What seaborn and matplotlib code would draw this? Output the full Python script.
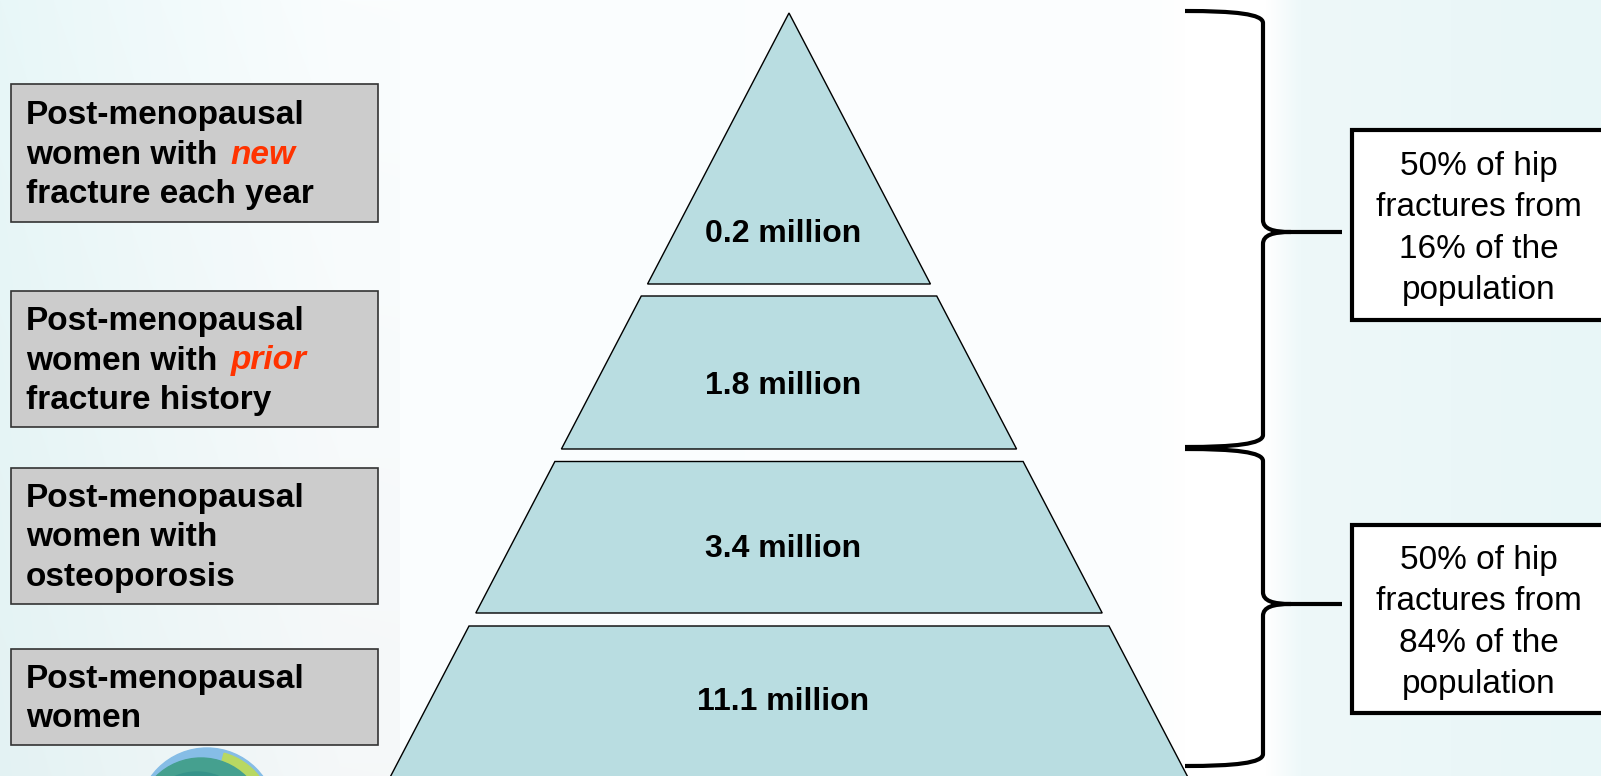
import numpy as np
import matplotlib
matplotlib.use("Agg")
import matplotlib.pyplot as plt
import seaborn as sns
from matplotlib.patches import Rectangle, Polygon, PathPatch, Circle, Wedge
from matplotlib.path import Path
from matplotlib.colors import to_rgb

# ---------------- data ----------------
tier_labels = ["0.2 million", "1.8 million", "3.4 million", "11.1 million"]
group_lines = [
    ["Post-menopausal", "women with", "fracture each year"],
    ["Post-menopausal", "women with", "fracture history"],
    ["Post-menopausal", "women with", "osteoporosis"],
    ["Post-menopausal", "women"],
]
group_highlight = ["new", "prior", None, None]
note_lines = [
    ["50% of hip", "fractures from", "16% of the", "population"],
    ["50% of hip", "fractures from", "84% of the", "population"],
]

# ---------------- style ----------------
sns.set_theme(style="white")
plt.rcParams['font.family'] = ['Liberation Sans', 'DejaVu Sans']

W, H = 1601, 776
fig = plt.figure(figsize=(W / 100, H / 100), dpi=100)
ax = fig.add_axes([0, 0, 1, 1])
ax.set_xlim(0, W)
ax.set_ylim(H, 0)
ax.axis('off')

# background gradient
xs = np.arange(W)
stops_x = [0, 160, 340, 1150, 1185, 1265, 1300, 1601]
stops_c = ['#e8f7f8', '#f1fafb', '#fafdfe', '#fcfefe', '#ffffff', '#ffffff', '#eef8f9', '#e8f6f7']
rgb = np.array([to_rgb(c) for c in stops_c])
row = np.stack([np.interp(xs, stops_x, rgb[:, k]) for k in range(3)], axis=-1)
ys = np.linspace(0, 1, H)[:, None, None]
bg = row[None, :, :] * (1 - 0.02 * ys * (xs[None, :, None] < 400))
ax.imshow(np.clip(bg, 0, 1), extent=(0, W, H, 0), aspect='auto', zorder=0)

# logo (partial, bottom-left)
logo = [Circle((207, 817), 69, color='#86bde6', zorder=1),
        Wedge((207, 817), 66, 285, 360, color='#b8d862', zorder=1),
        Circle((201, 822), 64, color='#45a08f', zorder=1),
        Circle((197, 828), 56, color='#36938a', zorder=1)]
for p in logo:
    ax.add_patch(p)

# ---------------- pyramid ----------------
apex_x, apex_y, slope = 789, 13, 0.522
bands = [(13, 284), (296, 449), (461.5, 613), (626, 800)]
label_y = [234, 386, 549, 702]
fill = '#b9dde1'
for (y0, y1), lab, ly in zip(bands, tier_labels, label_y):
    h0 = slope * (y0 - apex_y)
    h1 = slope * (y1 - apex_y)
    poly = Polygon([(apex_x - h0, y0), (apex_x + h0, y0), (apex_x + h1, y1), (apex_x - h1, y1)],
                   closed=True, facecolor=fill, edgecolor='black', lw=1.0, zorder=2)
    ax.add_patch(poly)
    ax.text(783, ly, lab, ha='center', va='center', fontsize=23, fontweight='bold',
            color='black', zorder=3)

# ---------------- left boxes ----------------
box_y = [(84, 222), (291, 427), (468, 604), (649, 745)]
red = '#ff3300'
fig.canvas.draw()
renderer = fig.canvas.get_renderer()
inv = ax.transData.inverted()
for (y0, y1), lines, hl in zip(box_y, group_lines, group_highlight):
    ax.add_patch(Rectangle((10.5, y0), 367.5, y1 - y0, facecolor='#cccccc',
                           edgecolor='#333333', lw=1.2, zorder=2))
    c = (y0 + y1) / 2
    n = len(lines)
    for i, ln in enumerate(lines):
        base = c + (i - (n - 1) / 2) * 39.5 + 10.5
        t = ax.text(26, base, ln, ha='left', va='baseline', fontsize=24,
                    fontweight='bold', color='black', zorder=3)
        if hl is not None and i == 1:
            bb = t.get_window_extent(renderer=renderer)
            xend = inv.transform((bb.x1, bb.y0))[0]
            ax.text(xend + 13, base, hl, ha='left', va='baseline', fontsize=24,
                    fontweight='bold', fontstyle='italic', color=red, zorder=3)

# ---------------- braces ----------------
def brace(x0, xv, xt, ya, yb, ym):
    r = 12
    verts = [(x0, ya), (x0 + 50, ya), (xv, ya + 3), (xv, ya + r),
             (xv, ym - r),
             (xv, ym - 3), (xv + 10, ym), (xv + 28, ym),
             (xt, ym),
             (xv + 28, ym), (xv + 10, ym), (xv, ym + 3), (xv, ym + r),
             (xv, yb - r),
             (xv, yb - 3), (x0 + 50, yb), (x0, yb)]
    codes = [Path.MOVETO, Path.CURVE4, Path.CURVE4, Path.CURVE4,
             Path.LINETO,
             Path.CURVE4, Path.CURVE4, Path.CURVE4,
             Path.LINETO,
             Path.MOVETO, Path.CURVE4, Path.CURVE4, Path.CURVE4,
             Path.LINETO,
             Path.CURVE4, Path.CURVE4, Path.CURVE4]
    return PathPatch(Path(verts, codes), facecolor='none', edgecolor='black',
                     lw=3, capstyle='butt', joinstyle='round', zorder=4)

ax.add_patch(brace(1185, 1263, 1342, 11, 447, 232))
ax.add_patch(brace(1185, 1263, 1342, 449, 766, 604))

# ---------------- right boxes ----------------
note_box_y = [(130, 320), (525, 713)]
for (y0, y1), lines in zip(note_box_y, note_lines):
    ax.add_patch(Rectangle((1352, y0), 300, y1 - y0, facecolor='white',
                           edgecolor='black', lw=3, zorder=3))
    c = (y0 + y1) / 2
    n = len(lines)
    for i, ln in enumerate(lines):
        base = c + (i - (n - 1) / 2) * 41.5 + 12
        ax.text(1479, base, ln, ha='center', va='baseline', fontsize=24,
                color='black', zorder=4)

fig.savefig('out.png', dpi=100)
